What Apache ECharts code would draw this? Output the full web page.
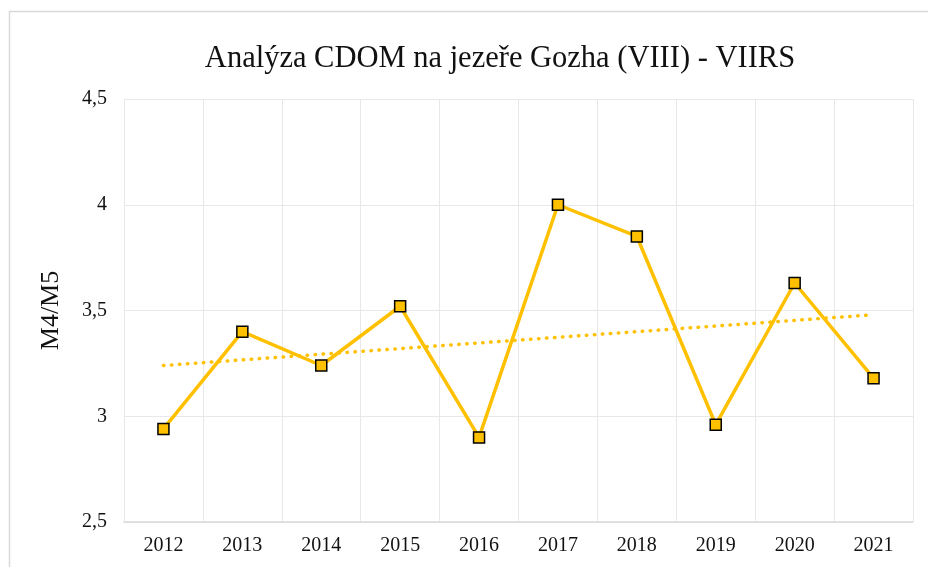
<!DOCTYPE html>
<html>
<head>
<meta charset="utf-8">
<script src="https://cdn.jsdelivr.net/npm/echarts@6/dist/echarts.min.js"></script>
<style>
    html, body { margin: 0; padding: 0; background: #fff; }
    #chart { width: 928px; height: 567px; }
</style>
</head>
<body>
<div id="chart"></div>
<script type="text/javascript">
    // data
    var years = ["2012", "2013", "2014", "2015", "2016", "2017", "2018", "2019", "2020", "2021"];
    var ratio = [2.94, 3.40, 3.24, 3.52, 2.90, 4.00, 3.85, 2.96, 3.63, 3.18];
    // linear trend, end points
    var trendYears = ["2012", "2021"];
    var trendValues = [3.24, 3.48];
    var yTicks = [2.5, 3, 3.5, 4, 4.5];

    var gold = "#FFC000";
    var font = "'Liberation Serif', 'DejaVu Serif', serif";

    var myChart = echarts.init(document.getElementById('chart'));
    myChart.setOption({
        animation: false,
        textStyle: { fontFamily: font },
        graphic: [{
            type: 'rect',
            shape: { x: 9.5, y: 11.5, width: 960, height: 600 },
            style: { fill: 'none', stroke: '#d9d9d9', lineWidth: 1.5 },
            silent: true
        }],
        title: {
            text: "Analýza CDOM na jezeře Gozha (VIII) - VIIRS",
            left: 495,
            textAlign: 'center',
            top: 38,
            textStyle: {
                fontFamily: font,
                fontSize: 30.5,
                fontWeight: 'normal',
                color: '#111'
            }
        },
        grid: { left: 124, right: 15, top: 99, bottom: 45 },
        xAxis: {
            type: 'category',
            boundaryGap: true,
            data: years,
            axisLine: { lineStyle: { color: '#d9d9d9', width: 1.5 } },
            axisTick: { show: false },
            axisLabel: { color: '#111', fontSize: 20, fontFamily: font, margin: 14 },
            splitLine: { show: true, lineStyle: { color: '#e8e8e8', width: 1 } }
        },
        yAxis: {
            type: 'value',
            min: yTicks[0],
            max: yTicks[yTicks.length - 1],
            interval: 0.5,
            name: "M4/M5",
            nameLocation: 'middle',
            nameGap: 60,
            nameTextStyle: { fontFamily: font, fontSize: 26, color: '#111' },
            axisLine: { show: false },
            axisTick: { show: false },
            axisLabel: {
                color: '#111', fontSize: 20, fontFamily: font, margin: 17,
                formatter: function (v) { return String(v).replace('.', ','); }
            },
            splitLine: { lineStyle: { color: '#e8e8e8', width: 1 } }
        },
        series: [
            {
                name: "trend",
                type: 'line',
                data: [[trendYears[0], trendValues[0]], [trendYears[1], trendValues[1]]],
                symbol: 'none',
                lineStyle: { color: gold, width: 3.5, type: [0.5, 7.5], cap: 'round' },
                z: 2
            },
            {
                name: "M4/M5",
                type: 'line',
                data: ratio,
                symbol: 'rect',
                symbolSize: 11,
                lineStyle: { color: gold, width: 3.5 },
                itemStyle: { color: gold, borderColor: '#000', borderWidth: 1.5 },
                z: 3
            }
        ]
    });
</script>
</body>
</html>
